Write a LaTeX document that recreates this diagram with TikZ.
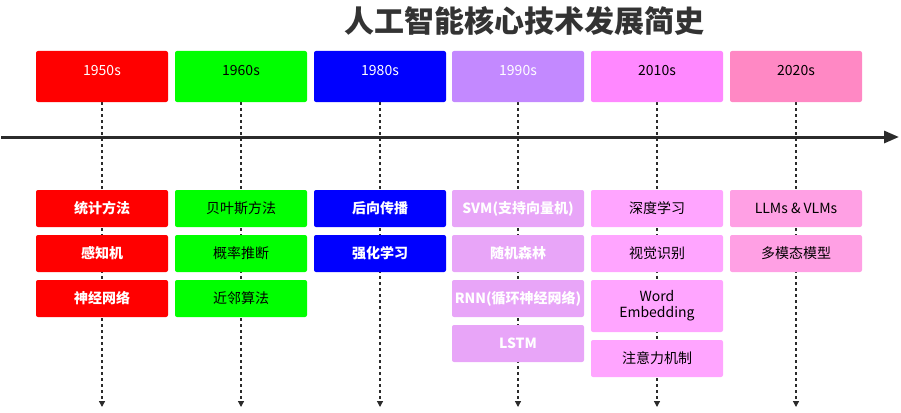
\documentclass[tikz,border=0pt]{standalone}
\usepackage{fontspec}
\setmainfont{Noto Sans CJK SC}
\usetikzlibrary{arrows.meta, positioning, backgrounds}
\definecolor{titlegray}{HTML}{333333}
\definecolor{linegray}{HTML}{2B2B2B}
\definecolor{red50}{HTML}{FF0000}
\definecolor{green60}{HTML}{00FF00}
\definecolor{blue80}{HTML}{0000FF}
\definecolor{violet90}{HTML}{C389FF}
\definecolor{violet90lt}{HTML}{E8A5F8}
\definecolor{pink10}{HTML}{FF88FF}
\definecolor{pink10lt}{HTML}{FFA5FF}
\definecolor{rose20}{HTML}{FF88C4}
\definecolor{rose20lt}{HTML}{FFA0E4}
\tikzset{
  yearbox/.style={rectangle,rounded corners=2pt,outer sep=0pt,inner sep=0pt,align=center,minimum width=132pt,minimum height=51pt,text height=10pt,text depth=13pt,font=\fontsize{14}{16}\selectfont},
  itembox/.style={rectangle,rounded corners=2pt,outer sep=0pt,inner sep=2pt,align=center,minimum width=132pt,minimum height=37pt,font=\fontsize{14}{16}\selectfont},
  bolditem/.style={itembox,text=white,font=\fontsize{14}{16}\selectfont\bfseries},
  guide/.style={linegray,line width=1.3pt,dash pattern=on 3pt off 3pt,-{Triangle[length=6pt,width=6pt]}},
  axis/.style={linegray,line width=3pt,-{Triangle[length=15pt,width=12pt]}}
}

\begin{document}
\begin{tikzpicture}[x=1pt,y=-1pt]
\useasboundingbox (0,0) rectangle (901,412);
\node[font=\fontsize{30}{34}\selectfont\bfseries, text=titlegray] (title) at (524,21) {人工智能核心技术发展简史};

% decades
\node[yearbox, fill=red50, text=white, anchor=north west] (y50) at (36,51) {1950s};
\node[yearbox, fill=green60, text=black, right=7pt of y50] (y60) {1960s};
\node[yearbox, fill=blue80, text=white, right=7pt of y60] (y80) {1980s};
\node[yearbox, fill=violet90, text=white, right=6pt of y80] (y90) {1990s};
\node[yearbox, fill=pink10, text=black, right=7pt of y90] (y10) {2010s};
\node[yearbox, fill=rose20, text=black, right=7pt of y10] (y20) {2020s};

% timeline
\coordinate (tl0) at (1,137);
\coordinate (tl1) at (899,137);
\coordinate (bot) at (0,407);

% 1950s
\node[bolditem, fill=red50, below=88pt of y50] (a1) {统计方法};
\node[bolditem, fill=red50, below=8pt of a1] (a2) {感知机};
\node[bolditem, fill=red50, below=8pt of a2] (a3) {神经网络};
% 1960s
\node[itembox, fill=green60, text=black, below=88pt of y60] (b1) {贝叶斯方法};
\node[itembox, fill=green60, text=black, below=8pt of b1] (b2) {概率推断};
\node[itembox, fill=green60, text=black, below=8pt of b2] (b3) {近邻算法};
% 1980s
\node[bolditem, fill=blue80, below=88pt of y80] (c1) {后向传播};
\node[bolditem, fill=blue80, below=8pt of c1] (c2) {强化学习};
% 1990s
\node[bolditem, fill=violet90lt, below=88pt of y90] (d1) {SVM(支持向量机)};
\node[bolditem, fill=violet90lt, below=8pt of d1] (d2) {随机森林};
\node[bolditem, fill=violet90lt, below=8pt of d2] (d3) {RNN(循环神经网络)};
\node[bolditem, fill=violet90lt, below=8pt of d3] (d4) {LSTM};
% 2010s
\node[itembox, fill=pink10lt, text=black, below=88pt of y10] (e1) {深度学习};
\node[itembox, fill=pink10lt, text=black, below=8pt of e1] (e2) {视觉识别};
\node[itembox, fill=pink10lt, text=black, minimum height=52pt, below=8pt of e2] (e3) {Word\\Embedding};
\node[itembox, fill=pink10lt, text=black, below=8pt of e3] (e4) {注意力机制};
% 2020s
\node[itembox, fill=rose20lt, text=black, below=88pt of y20] (f1) {LLMs \& VLMs};
\node[itembox, fill=rose20lt, text=black, below=8pt of f1] (f2) {多模态模型};

\begin{scope}[on background layer]
\foreach \y in {y50,y60,y80,y90,y10,y20}
  \draw[guide] (\y.south) -- (\y.south |- bot);
\draw[axis] (tl0) -- (tl1);
\end{scope}
\end{tikzpicture}
\end{document}
